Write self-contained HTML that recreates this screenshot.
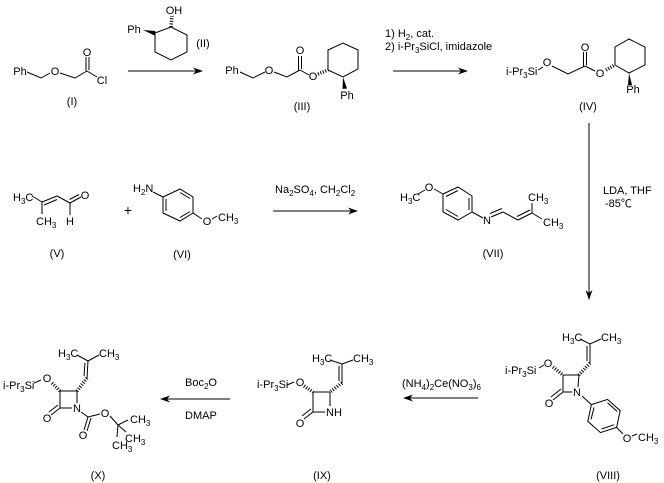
<!DOCTYPE html>
<html><head><meta charset="utf-8"><style>
html,body{margin:0;padding:0;background:#fff;}
svg{display:block;}
text{font-family:"Liberation Sans","Noto Sans CJK SC",sans-serif;font-size:11px;fill:#000;}
.m{text-anchor:middle;}
.s{font-size:8px;}
.b{stroke:#000;stroke-width:1;fill:none;}
.h{stroke:#000;stroke-width:3.5;stroke-dasharray:1 1.6;fill:none;}
</style></head><body>
<svg width="664" height="483" viewBox="0 0 664 483" xmlns="http://www.w3.org/2000/svg">
<rect width="664" height="483" fill="#fff"/>
<g class="b">
<!-- I -->
<path d="M27 72 L41 78 L50 73 M60 73 L75 78 L87 71 M86 71 V57 M89 70 V57 M87 71 L97 77"/>
<!-- arrow1 -->
<path d="M128 71 H197"/>
<!-- II -->
<path d="M155 33 L171 27 L187 35 L187 52 L171 60 L155 52 Z"/>
<!-- III -->
<path d="M240 72 L253 78 L265 72 M274 72 L287 77 L300 70 M298.5 70 V56 M301.5 69 V56 M300 70 L309 75"/>
<path d="M328 70 L328 50 L343 43 L358 50 L358 69 L343 77 Z"/>
<!-- arrow2 -->
<path d="M393 71 H462"/>
<!-- IV -->
<path d="M538 70 L543 67 M552 66 L568 74 L585 66 M583.5 66 V52 M586.5 65 V52 M585 66 L595 71"/>
<path d="M615 65 L615 47 L629 39 L645 47 L645 65 L629 73 Z"/>
<!-- vertical arrow -->
<path d="M589 123 V294"/>
<!-- V -->
<path d="M32 196 L42 202 M42 202 L42 214 M42 202 L57 196 M44 205 L57 199.5 M57 196 L70 203 M70 203 L81 197 M69.5 199.5 L79 194.5 M70 203 L70 215"/>
<!-- VI -->
<path d="M153 192 L163 197 M163 197 L180 189 L193 197 L193 213 L180 221 L163 213 Z M166 199 V211 M180 192.5 L190 198.5 M190 211.5 L180 217.5 M193 213 L202 219 M212 219 L217 216"/>
<!-- cond arrow -->
<path d="M273 211 H352"/>
<!-- VII -->
<path d="M418 194 L425 190 M434 189 L443 194 M443 194 L458 187 L472 196 L472 212 L458 220 L443 212 Z M446 196.5 L458 190.5 M469 198 V210 M446 209.5 L458 216.5 M472 212 L483 218 M491 217 L503 212 M490 213.5 L502 208.5 M503 212 L518 220 M518 220 L532 213 M517 216.5 L530 210 M532 213 V203 M532 213 L542 219"/>
<!-- VIII -->
<path d="M580 339 L590 344 L601 339 M590 344 V363 M587 346 V361 M579 375 L563 375 L563 392 L572 392 M579 375 L578 387 M539 368 L544 365 M563 392 L553 400 M561 389 L551 397 M582 396 L591.4 404.6"/>
<path d="M591.4 404.6 L607.5 399.4 L620.2 410.7 L616.6 427.4 L600.5 432.6 L587.8 421.3 Z M594 407.5 L591 419.5 M607.5 402.8 L617.2 411.5 M614 424.8 L601.5 429"/>
<path d="M616.6 427.4 L623 434 M632 436 L637 434"/>
<!-- arrow3 -->
<path d="M478 398 H409"/>
<!-- IX -->
<path d="M330 360 L342 364 L353 360 M342 364 V383 M339 366 V381 M330 392 L313 392 L313 412 L325 412 M330 392 V406 M287 385 L294 382 M313 412 L304 419 M311 409 L302 416"/>
<!-- arrow4 -->
<path d="M230 399 H166"/>
<!-- X -->
<path d="M77 355 L88 361 L99 355 M88 361 L87 378 M85 363 L84 376 M77 391 L60 391 L60 408 L72 408 M77 391 V403 M34 383 L41 380 M60 408 L51 415 M58 405 L49 412 M81 412 L88 417 M88 417 L84 430 M91 418 L87 431 M88 417 L100 414 M110 416 L118 425 M118 425 L128 420 M118 425 L117 437 M118 425 L126 432"/>
</g>
<!-- hashed bonds -->
<g class="h">
<path d="M171 27 L172 16"/>
<path d="M318 74 L328 70"/>
<path d="M606 70 L615 65"/>
<path d="M590 363 L579 375"/>
<path d="M553 367 L563 375"/>
<path d="M342 383 L330 392"/>
<path d="M304 386 L313 392"/>
<path d="M87 378 L77 391"/>
<path d="M52 383 L60 391"/>
</g>
<!-- wedges & arrowheads -->
<g fill="#000" stroke="none">
<polygon points="143,30 154.5,35.5 155.5,31"/>
<polygon points="343,77 342.5,89 347,88.5"/>
<polygon points="629,73 628,85 632,85"/>
<polygon points="203,71 193,67.5 196,71 193,74.5"/>
<polygon points="468,71 458,67.5 461,71 458,74.5"/>
<polygon points="358,211 348,207.5 351,211 348,214.5"/>
<polygon points="589,300 585.5,290 589,293 592.5,290"/>
<polygon points="403,398 413,394.5 410,398 413,401.5"/>
<polygon points="160,399 170,395.5 167,399 170,402.5"/>
</g>
<!-- I labels -->
<text class="m" x="20" y="75">Ph</text>
<text class="m" x="55" y="75">O</text>
<text class="m" x="87" y="56">O</text>
<text class="m" x="102" y="84">Cl</text>
<text class="m" x="72" y="105">(I)</text>
<!-- II -->
<text class="m" x="174" y="14">OH</text>
<text class="m" x="134" y="33">Ph</text>
<text class="m" x="203" y="47">(II)</text>
<!-- III -->
<text class="m" x="232" y="74">Ph</text>
<text class="m" x="269" y="74">O</text>
<text class="m" x="300" y="54">O</text>
<text class="m" x="313" y="80">O</text>
<text class="m" x="347" y="99">Ph</text>
<text class="m" x="302" y="110">(III)</text>
<!-- conditions 1 -->
<text x="385" y="37">1) H<tspan class="s" dy="3">2</tspan><tspan dy="-3">, cat.</tspan></text>
<text x="385" y="50">2) i-Pr<tspan class="s" dy="3">3</tspan><tspan dy="-3">SiCl, imidazole</tspan></text>
<!-- IV -->
<text x="506" y="75">i-Pr<tspan class="s" dy="3">3</tspan><tspan dy="-3">Si</tspan></text>
<text class="m" x="547" y="66">O</text>
<text class="m" x="585" y="51">O</text>
<text class="m" x="600" y="77">O</text>
<text class="m" x="633" y="93">Ph</text>
<text class="m" x="588" y="110">(IV)</text>
<!-- LDA -->
<text x="603" y="194">LDA, THF</text>
<text x="605" y="207">-85℃</text>
<!-- V -->
<text x="13" y="201">H<tspan class="s" dy="3">3</tspan><tspan dy="-3">C</tspan></text>
<text x="36" y="225">CH<tspan class="s" dy="3">3</tspan></text>
<text class="m" x="70" y="225">H</text>
<text class="m" x="85" y="199">O</text>
<text class="m" x="57" y="257">(V)</text>
<text class="m" x="128" y="215" style="font-size:14px">+</text>
<!-- VI -->
<text x="133" y="192">H<tspan class="s" dy="3">2</tspan><tspan dy="-3">N</tspan></text>
<text class="m" x="207" y="225">O</text>
<text x="218" y="221">CH<tspan class="s" dy="3">3</tspan></text>
<text class="m" x="182" y="258">(VI)</text>
<!-- cond 2 -->
<text x="275" y="193">Na<tspan class="s" dy="3">2</tspan><tspan dy="-3">SO</tspan><tspan class="s" dy="3">4</tspan><tspan dy="-3">, CH</tspan><tspan class="s" dy="3">2</tspan><tspan dy="-3">Cl</tspan><tspan class="s" dy="3">2</tspan></text>
<!-- VII -->
<text x="400" y="201">H<tspan class="s" dy="3">3</tspan><tspan dy="-3">C</tspan></text>
<text class="m" x="429" y="191">O</text>
<text class="m" x="487" y="224">N</text>
<text x="528" y="201">CH<tspan class="s" dy="3">3</tspan></text>
<text x="543" y="226">CH<tspan class="s" dy="3">3</tspan></text>
<text class="m" x="493" y="257">(VII)</text>
<!-- VIII -->
<text x="562" y="341">H<tspan class="s" dy="3">3</tspan><tspan dy="-3">C</tspan></text>
<text x="601" y="341">CH<tspan class="s" dy="3">3</tspan></text>
<text x="505" y="374">i-Pr<tspan class="s" dy="3">3</tspan><tspan dy="-3">Si</tspan></text>
<text class="m" x="548" y="367">O</text>
<text class="m" x="577" y="396">N</text>
<text class="m" x="549" y="407">O</text>
<text class="m" x="627" y="442">O</text>
<text x="638" y="441">CH<tspan class="s" dy="3">3</tspan></text>
<text class="m" x="608" y="479">(VIII)</text>
<!-- cond 3 -->
<text x="402" y="387">(NH<tspan class="s" dy="3">4</tspan><tspan dy="-3">)</tspan><tspan class="s" dy="3">2</tspan><tspan dy="-3">Ce(NO</tspan><tspan class="s" dy="3">3</tspan><tspan dy="-3">)</tspan><tspan class="s" dy="3">6</tspan></text>
<!-- IX -->
<text x="312" y="362">H<tspan class="s" dy="3">3</tspan><tspan dy="-3">C</tspan></text>
<text x="353" y="362">CH<tspan class="s" dy="3">3</tspan></text>
<text x="257" y="388">i-Pr<tspan class="s" dy="3">3</tspan><tspan dy="-3">Si</tspan></text>
<text class="m" x="300" y="386">O</text>
<text x="326" y="416">NH</text>
<text class="m" x="300" y="427">O</text>
<text class="m" x="322" y="479">(IX)</text>
<!-- cond 4 -->
<text x="185" y="386">Boc<tspan class="s" dy="3">2</tspan><tspan dy="-3">O</tspan></text>
<text x="185" y="419">DMAP</text>
<!-- X -->
<text x="58" y="357">H<tspan class="s" dy="3">3</tspan><tspan dy="-3">C</tspan></text>
<text x="99" y="357">CH<tspan class="s" dy="3">3</tspan></text>
<text x="3" y="389">i-Pr<tspan class="s" dy="3">3</tspan><tspan dy="-3">Si</tspan></text>
<text class="m" x="47" y="382">O</text>
<text class="m" x="77" y="412">N</text>
<text class="m" x="47" y="422">O</text>
<text class="m" x="83" y="439">O</text>
<text class="m" x="105" y="417">O</text>
<text x="130" y="423">CH<tspan class="s" dy="3">3</tspan></text>
<text x="125" y="442">CH<tspan class="s" dy="3">3</tspan></text>
<text x="112" y="449">CH<tspan class="s" dy="3">3</tspan></text>
<text class="m" x="98" y="479">(X)</text>
</svg>
</body></html>
